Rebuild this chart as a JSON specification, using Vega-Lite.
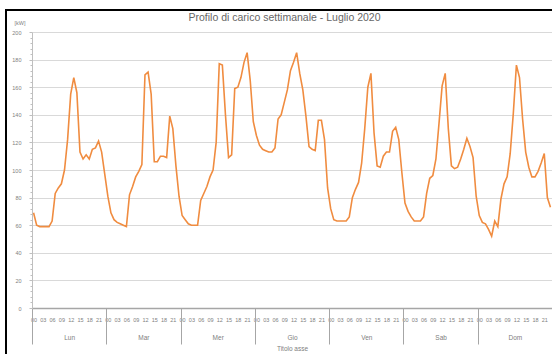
{
  "$schema": "https://vega.github.io/schema/vega-lite/v6.json",
  "width": 547,
  "height": 345,
  "autosize": {"type": "none"},
  "padding": {"left": 6, "top": 10, "right": -1, "bottom": -1},
  "background": "#ffffff",
  "config": {
    "view": {"stroke": "#000000", "strokeWidth": 2},
    "font": "Liberation Sans",
    "axis": {"labelColor": "#808080", "titleColor": "#808080", "labelFont": "Liberation Sans", "titleFont": "Liberation Sans", "titleFontWeight": "normal"}
  },
  "title": {
    "text": "Profilo di carico settimanale - Luglio 2020",
    "font": "Liberation Sans",
    "fontSize": 10.5,
    "fontWeight": "normal",
    "color": "#666666",
    "anchor": "middle",
    "frame": "group",
    "orient": "top",
    "baseline": "middle",
    "offset": -18,
    "dx": 5
  },
  "datasets": {
    "carico": [
      {"giorno": "Lun", "ora": 0, "kW": 69}, {"giorno": "Lun", "ora": 1, "kW": 60}, {"giorno": "Lun", "ora": 2, "kW": 59}, {"giorno": "Lun", "ora": 3, "kW": 59},
      {"giorno": "Lun", "ora": 4, "kW": 59}, {"giorno": "Lun", "ora": 5, "kW": 59}, {"giorno": "Lun", "ora": 6, "kW": 63}, {"giorno": "Lun", "ora": 7, "kW": 83},
      {"giorno": "Lun", "ora": 8, "kW": 87}, {"giorno": "Lun", "ora": 9, "kW": 90}, {"giorno": "Lun", "ora": 10, "kW": 100}, {"giorno": "Lun", "ora": 11, "kW": 122},
      {"giorno": "Lun", "ora": 12, "kW": 155}, {"giorno": "Lun", "ora": 13, "kW": 167}, {"giorno": "Lun", "ora": 14, "kW": 156}, {"giorno": "Lun", "ora": 15, "kW": 113},
      {"giorno": "Lun", "ora": 16, "kW": 108}, {"giorno": "Lun", "ora": 17, "kW": 111}, {"giorno": "Lun", "ora": 18, "kW": 108}, {"giorno": "Lun", "ora": 19, "kW": 115},
      {"giorno": "Lun", "ora": 20, "kW": 116}, {"giorno": "Lun", "ora": 21, "kW": 121}, {"giorno": "Lun", "ora": 22, "kW": 113}, {"giorno": "Lun", "ora": 23, "kW": 97},
      {"giorno": "Mar", "ora": 24, "kW": 81}, {"giorno": "Mar", "ora": 25, "kW": 69}, {"giorno": "Mar", "ora": 26, "kW": 64}, {"giorno": "Mar", "ora": 27, "kW": 62},
      {"giorno": "Mar", "ora": 28, "kW": 61}, {"giorno": "Mar", "ora": 29, "kW": 60}, {"giorno": "Mar", "ora": 30, "kW": 59}, {"giorno": "Mar", "ora": 31, "kW": 82},
      {"giorno": "Mar", "ora": 32, "kW": 88}, {"giorno": "Mar", "ora": 33, "kW": 95}, {"giorno": "Mar", "ora": 34, "kW": 99}, {"giorno": "Mar", "ora": 35, "kW": 104},
      {"giorno": "Mar", "ora": 36, "kW": 169}, {"giorno": "Mar", "ora": 37, "kW": 171}, {"giorno": "Mar", "ora": 38, "kW": 155}, {"giorno": "Mar", "ora": 39, "kW": 106},
      {"giorno": "Mar", "ora": 40, "kW": 106}, {"giorno": "Mar", "ora": 41, "kW": 110}, {"giorno": "Mar", "ora": 42, "kW": 110}, {"giorno": "Mar", "ora": 43, "kW": 109},
      {"giorno": "Mar", "ora": 44, "kW": 139}, {"giorno": "Mar", "ora": 45, "kW": 130}, {"giorno": "Mar", "ora": 46, "kW": 103}, {"giorno": "Mar", "ora": 47, "kW": 81},
      {"giorno": "Mer", "ora": 48, "kW": 67}, {"giorno": "Mer", "ora": 49, "kW": 64}, {"giorno": "Mer", "ora": 50, "kW": 61}, {"giorno": "Mer", "ora": 51, "kW": 60},
      {"giorno": "Mer", "ora": 52, "kW": 60}, {"giorno": "Mer", "ora": 53, "kW": 60}, {"giorno": "Mer", "ora": 54, "kW": 78}, {"giorno": "Mer", "ora": 55, "kW": 83},
      {"giorno": "Mer", "ora": 56, "kW": 88}, {"giorno": "Mer", "ora": 57, "kW": 95}, {"giorno": "Mer", "ora": 58, "kW": 100}, {"giorno": "Mer", "ora": 59, "kW": 120},
      {"giorno": "Mer", "ora": 60, "kW": 177}, {"giorno": "Mer", "ora": 61, "kW": 176}, {"giorno": "Mer", "ora": 62, "kW": 140}, {"giorno": "Mer", "ora": 63, "kW": 109},
      {"giorno": "Mer", "ora": 64, "kW": 111}, {"giorno": "Mer", "ora": 65, "kW": 159}, {"giorno": "Mer", "ora": 66, "kW": 160}, {"giorno": "Mer", "ora": 67, "kW": 167},
      {"giorno": "Mer", "ora": 68, "kW": 178}, {"giorno": "Mer", "ora": 69, "kW": 185}, {"giorno": "Mer", "ora": 70, "kW": 165}, {"giorno": "Mer", "ora": 71, "kW": 135},
      {"giorno": "Gio", "ora": 72, "kW": 125}, {"giorno": "Gio", "ora": 73, "kW": 118}, {"giorno": "Gio", "ora": 74, "kW": 115}, {"giorno": "Gio", "ora": 75, "kW": 114},
      {"giorno": "Gio", "ora": 76, "kW": 113}, {"giorno": "Gio", "ora": 77, "kW": 113}, {"giorno": "Gio", "ora": 78, "kW": 116}, {"giorno": "Gio", "ora": 79, "kW": 137},
      {"giorno": "Gio", "ora": 80, "kW": 140}, {"giorno": "Gio", "ora": 81, "kW": 149}, {"giorno": "Gio", "ora": 82, "kW": 158}, {"giorno": "Gio", "ora": 83, "kW": 172},
      {"giorno": "Gio", "ora": 84, "kW": 178}, {"giorno": "Gio", "ora": 85, "kW": 185}, {"giorno": "Gio", "ora": 86, "kW": 170}, {"giorno": "Gio", "ora": 87, "kW": 158},
      {"giorno": "Gio", "ora": 88, "kW": 139}, {"giorno": "Gio", "ora": 89, "kW": 117}, {"giorno": "Gio", "ora": 90, "kW": 115}, {"giorno": "Gio", "ora": 91, "kW": 114},
      {"giorno": "Gio", "ora": 92, "kW": 136}, {"giorno": "Gio", "ora": 93, "kW": 136}, {"giorno": "Gio", "ora": 94, "kW": 122}, {"giorno": "Gio", "ora": 95, "kW": 87},
      {"giorno": "Ven", "ora": 96, "kW": 72}, {"giorno": "Ven", "ora": 97, "kW": 64}, {"giorno": "Ven", "ora": 98, "kW": 63}, {"giorno": "Ven", "ora": 99, "kW": 63},
      {"giorno": "Ven", "ora": 100, "kW": 63}, {"giorno": "Ven", "ora": 101, "kW": 63}, {"giorno": "Ven", "ora": 102, "kW": 66}, {"giorno": "Ven", "ora": 103, "kW": 80},
      {"giorno": "Ven", "ora": 104, "kW": 86}, {"giorno": "Ven", "ora": 105, "kW": 91}, {"giorno": "Ven", "ora": 106, "kW": 105}, {"giorno": "Ven", "ora": 107, "kW": 130},
      {"giorno": "Ven", "ora": 108, "kW": 160}, {"giorno": "Ven", "ora": 109, "kW": 170}, {"giorno": "Ven", "ora": 110, "kW": 127}, {"giorno": "Ven", "ora": 111, "kW": 103},
      {"giorno": "Ven", "ora": 112, "kW": 102}, {"giorno": "Ven", "ora": 113, "kW": 110}, {"giorno": "Ven", "ora": 114, "kW": 113}, {"giorno": "Ven", "ora": 115, "kW": 113},
      {"giorno": "Ven", "ora": 116, "kW": 128}, {"giorno": "Ven", "ora": 117, "kW": 131}, {"giorno": "Ven", "ora": 118, "kW": 122}, {"giorno": "Ven", "ora": 119, "kW": 98},
      {"giorno": "Sab", "ora": 120, "kW": 76}, {"giorno": "Sab", "ora": 121, "kW": 70}, {"giorno": "Sab", "ora": 122, "kW": 66}, {"giorno": "Sab", "ora": 123, "kW": 63},
      {"giorno": "Sab", "ora": 124, "kW": 63}, {"giorno": "Sab", "ora": 125, "kW": 63}, {"giorno": "Sab", "ora": 126, "kW": 66}, {"giorno": "Sab", "ora": 127, "kW": 83},
      {"giorno": "Sab", "ora": 128, "kW": 94}, {"giorno": "Sab", "ora": 129, "kW": 96}, {"giorno": "Sab", "ora": 130, "kW": 108}, {"giorno": "Sab", "ora": 131, "kW": 134},
      {"giorno": "Sab", "ora": 132, "kW": 161}, {"giorno": "Sab", "ora": 133, "kW": 170}, {"giorno": "Sab", "ora": 134, "kW": 130}, {"giorno": "Sab", "ora": 135, "kW": 103},
      {"giorno": "Sab", "ora": 136, "kW": 101}, {"giorno": "Sab", "ora": 137, "kW": 102}, {"giorno": "Sab", "ora": 138, "kW": 108}, {"giorno": "Sab", "ora": 139, "kW": 115},
      {"giorno": "Sab", "ora": 140, "kW": 123}, {"giorno": "Sab", "ora": 141, "kW": 117}, {"giorno": "Sab", "ora": 142, "kW": 109}, {"giorno": "Sab", "ora": 143, "kW": 81},
      {"giorno": "Dom", "ora": 144, "kW": 67}, {"giorno": "Dom", "ora": 145, "kW": 62}, {"giorno": "Dom", "ora": 146, "kW": 61}, {"giorno": "Dom", "ora": 147, "kW": 57},
      {"giorno": "Dom", "ora": 148, "kW": 52}, {"giorno": "Dom", "ora": 149, "kW": 63}, {"giorno": "Dom", "ora": 150, "kW": 59}, {"giorno": "Dom", "ora": 151, "kW": 79},
      {"giorno": "Dom", "ora": 152, "kW": 90}, {"giorno": "Dom", "ora": 153, "kW": 95}, {"giorno": "Dom", "ora": 154, "kW": 112}, {"giorno": "Dom", "ora": 155, "kW": 141},
      {"giorno": "Dom", "ora": 156, "kW": 176}, {"giorno": "Dom", "ora": 157, "kW": 167}, {"giorno": "Dom", "ora": 158, "kW": 137}, {"giorno": "Dom", "ora": 159, "kW": 113},
      {"giorno": "Dom", "ora": 160, "kW": 102}, {"giorno": "Dom", "ora": 161, "kW": 95}, {"giorno": "Dom", "ora": 162, "kW": 95}, {"giorno": "Dom", "ora": 163, "kW": 99},
      {"giorno": "Dom", "ora": 164, "kW": 105}, {"giorno": "Dom", "ora": 165, "kW": 112}, {"giorno": "Dom", "ora": 166, "kW": 80}, {"giorno": "Dom", "ora": 167, "kW": 73}
    ]
  },
  "data": {"name": "carico"},
  "resolve": {"axis": {"x": "independent", "y": "independent"}},
  "layer": [
    {
      "mark": {"type": "line", "color": "#F08C40", "strokeWidth": 1.6, "interpolate": "linear"},
      "encoding": {
        "x": {
          "field": "ora", "type": "quantitative",
          "scale": {"domain": [-0.5, 167.5], "range": [26, 546], "nice": false, "zero": false},
          "axis": {
            "orient": "bottom", "offset": -47,
            "values": [0, 3, 6, 9, 12, 15, 18, 21, 24, 27, 30, 33, 36, 39, 42, 45, 48, 51, 54, 57, 60, 63, 66, 69, 72, 75, 78, 81, 84, 87, 90, 93, 96, 99, 102, 105, 108, 111, 114, 117, 120, 123, 126, 129, 132, 135, 138, 141, 144, 147, 150, 153, 156, 159, 162, 165],
            "labelExpr": "(datum.value % 24) < 10 ? '0' + (datum.value % 24) : '' + (datum.value % 24)",
            "labelFontSize": 5.5, "labelPadding": 9, "labelOverlap": false, "labelFlush": false,
            "ticks": false, "tickSize": 0, "grid": false,
            "domain": true, "domainColor": "#a6a6a6", "domainWidth": 1.5,
            "title": null
          }
        },
        "y": {
          "field": "kW", "type": "quantitative",
          "scale": {"domain": [0, 200], "range": [298, 22], "nice": false, "zero": true},
          "axis": {
            "orient": "left", "offset": -26,
            "values": [0, 20, 40, 60, 80, 100, 120, 140, 160, 180, 200],
            "labelFontSize": 5.5, "labelPadding": 8,
            "tickSize": 3, "tickColor": "#bfbfbf",
            "domainColor": "#bfbfbf", "domainWidth": 1,
            "grid": true, "gridColor": "#d9d9d9", "gridWidth": 1,
            "title": "[kW]", "titleFontSize": 5.5, "titleAngle": 0,
            "titleX": -12.5, "titleY": 12, "titleAlign": "center", "titleBaseline": "middle"
          }
        }
      }
    },
    {
      "mark": {"type": "point", "opacity": 0},
      "encoding": {
        "x": {
          "field": "ora", "type": "quantitative",
          "axis": {
            "orient": "bottom", "offset": -47,
            "values": [-0.5, 23.5, 47.5, 71.5, 95.5, 119.5, 143.5, 167.5],
            "labels": false, "domain": false, "grid": false,
            "ticks": true, "tickSize": 36, "tickColor": "#a6a6a6", "tickWidth": 1,
            "title": null
          }
        },
        "y": {
          "field": "kW", "type": "quantitative",
          "axis": {
            "orient": "left", "offset": -26,
            "values": [0, 4, 8, 12, 16, 24, 28, 32, 36, 44, 48, 52, 56, 64, 68, 72, 76, 84, 88, 92, 96, 104, 108, 112, 116, 124, 128, 132, 136, 144, 148, 152, 156, 164, 168, 172, 176, 184, 188, 192, 196],
            "labels": false, "domain": false, "grid": false,
            "tickSize": 2, "tickColor": "#bfbfbf",
            "title": null
          }
        }
      }
    },
    {
      "mark": {"type": "point", "opacity": 0},
      "encoding": {
        "x": {
          "field": "ora", "type": "quantitative",
          "axis": {
            "orient": "bottom", "offset": -47,
            "values": [11.5, 35.5, 59.5, 83.5, 107.5, 131.5, 155.5],
            "labelExpr": "['Lun', 'Mar', 'Mer', 'Gio', 'Ven', 'Sab', 'Dom'][floor(datum.value / 24)]",
            "labelFontSize": 6.5, "labelPadding": 26, "labelOverlap": false,
            "ticks": false, "tickSize": 0, "domain": false, "grid": false,
            "title": "Titolo asse", "titleFontSize": 6.5, "titlePadding": 5
          }
        }
      }
    }
  ]
}
